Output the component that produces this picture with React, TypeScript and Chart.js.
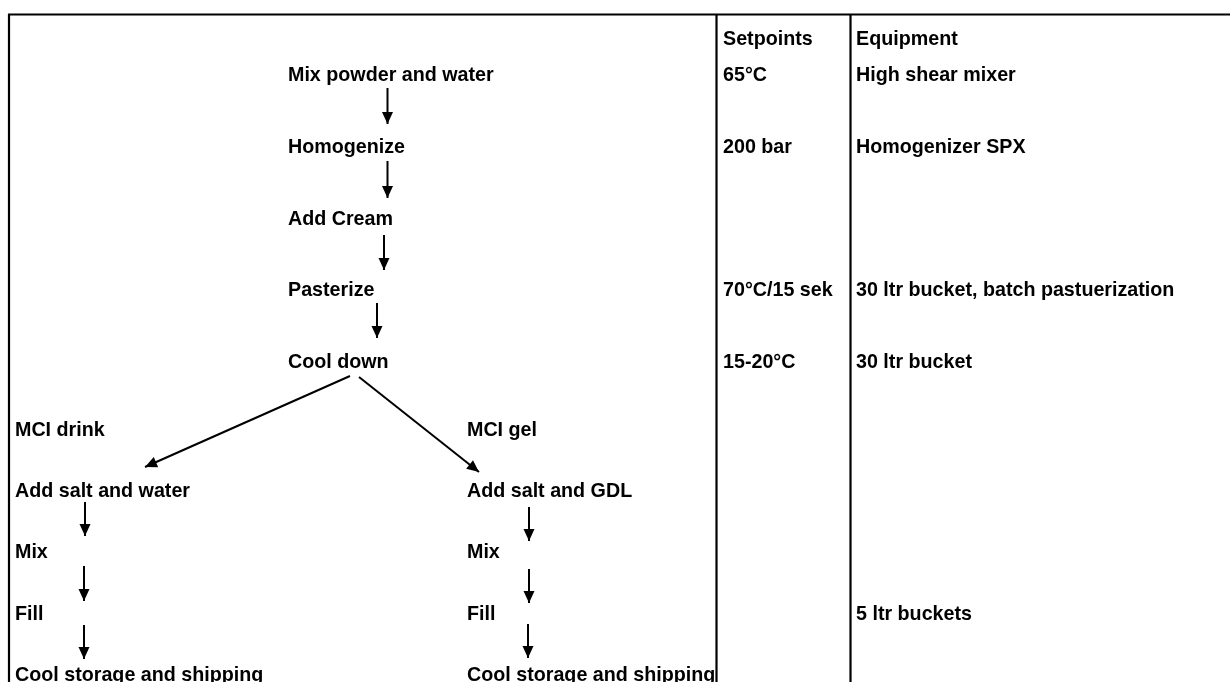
import React, { useEffect, useRef } from "react";
import { Chart, registerables } from "chart.js";

Chart.register(...registerables);

// Canvas value space: x 0..1230, y 0..682 (y grows downward)
const mainSteps = ["Mix powder and water", "Homogenize", "Add Cream", "Pasterize", "Cool down"];
const mainStepX = [288, 288, 288, 288, 288];
const mainStepY = [81, 153, 225, 296, 368];

const setpointLabels = ["Setpoints", "65°C", "200 bar", "70°C/15 sek", "15-20°C"];
const setpointY = [45, 81, 153, 296, 368];
const setpointX = 723;

const equipmentLabels = ["Equipment", "High shear mixer", "Homogenizer SPX", "30 ltr bucket, batch pastuerization", "30 ltr bucket", "5 ltr buckets"];
const equipmentY = [45, 81, 153, 296, 368, 620];
const equipmentX = 856;

const drinkSteps = ["MCI drink", "Add salt and water", "Mix", "Fill", "Cool storage and shipping"];
const gelSteps = ["MCI gel", "Add salt and GDL", "Mix", "Fill", "Cool storage and shipping"];
const branchY = [436, 497, 558, 620, 681];
const drinkX = 15;
const gelX = 467;

// Arrows: start (x, y) -> tip (x, y)
const arrowFromX = [387.5, 387.5, 384, 377, 350, 359, 85, 84, 84, 529, 529, 528];
const arrowFromY = [88, 161, 235, 303, 376, 377, 502, 566, 625, 507, 569, 624];
const arrowToX = [387.5, 387.5, 384, 377, 145, 479, 85, 84, 84, 529, 529, 528];
const arrowToY = [124, 198, 270, 338, 467, 472, 536, 601, 659, 541, 603, 658];

// Frame / table lines: x1, y1, x2, y2
const frameX1 = [8, 9, 716.5, 850.5];
const frameY1 = [14.5, 14, 14, 14];
const frameX2 = [1230, 9, 716.5, 850.5];
const frameY2 = [14.5, 682, 682, 682];

const FONT = 'bold 19.7px "Liberation Sans", Arial, sans-serif';
const HEAD_LEN = 12;
const HEAD_HALF = 5.5;

export default function App() {
  const ref = useRef<HTMLCanvasElement | null>(null);

  useEffect(() => {
    if (!ref.current) return;

    const datasets: any[] = [];
    frameX1.forEach((_, i) => {
      datasets.push({
        type: "line",
        label: "frame" + i,
        data: [
          { x: frameX1[i], y: frameY1[i] },
          { x: frameX2[i], y: frameY2[i] },
        ],
        borderColor: "#000",
        borderWidth: 2.2,
        pointRadius: 0,
        showLine: true,
        fill: false,
        clip: false,
      });
    });
    arrowFromX.forEach((_, i) => {
      datasets.push({
        type: "line",
        label: "arrow" + i,
        isArrow: true,
        data: [
          { x: arrowFromX[i], y: arrowFromY[i] },
          { x: arrowToX[i], y: arrowToY[i] },
        ],
        borderColor: "#000",
        borderWidth: 2,
        pointRadius: 0,
        showLine: true,
        fill: false,
        clip: false,
      });
    });

    const textPlugin = {
      id: "flowText",
      afterDatasetsDraw(chart: any) {
        const ctx = chart.ctx;
        const xs = chart.scales.x;
        const ys = chart.scales.y;
        ctx.save();
        // arrowheads
        chart.data.datasets.forEach((ds: any) => {
          if (!ds.isArrow) return;
          const p0 = ds.data[0];
          const p1 = ds.data[1];
          const x0 = xs.getPixelForValue(p0.x);
          const y0 = ys.getPixelForValue(p0.y);
          const x1 = xs.getPixelForValue(p1.x);
          const y1 = ys.getPixelForValue(p1.y);
          const ang = Math.atan2(y1 - y0, x1 - x0);
          const bx = x1 - HEAD_LEN * Math.cos(ang);
          const by = y1 - HEAD_LEN * Math.sin(ang);
          ctx.fillStyle = "#000";
          ctx.beginPath();
          ctx.moveTo(x1, y1);
          ctx.lineTo(bx + HEAD_HALF * Math.sin(ang), by - HEAD_HALF * Math.cos(ang));
          ctx.lineTo(bx - HEAD_HALF * Math.sin(ang), by + HEAD_HALF * Math.cos(ang));
          ctx.closePath();
          ctx.fill();
        });
        // texts
        ctx.font = FONT;
        ctx.fillStyle = "#000";
        ctx.textAlign = "left";
        ctx.textBaseline = "alphabetic";
        const put = (t: string, x: number, y: number) => {
          ctx.fillText(t, xs.getPixelForValue(x), ys.getPixelForValue(y));
        };
        mainSteps.forEach((t, i) => put(t, mainStepX[i], mainStepY[i]));
        setpointLabels.forEach((t, i) => put(t, setpointX, setpointY[i]));
        equipmentLabels.forEach((t, i) => put(t, equipmentX, equipmentY[i]));
        drinkSteps.forEach((t, i) => put(t, drinkX, branchY[i]));
        gelSteps.forEach((t, i) => put(t, gelX, branchY[i]));
        ctx.restore();
      },
    };

    const chart = new Chart(ref.current, {
      type: "scatter",
      data: { datasets },
      options: {
        animation: false,
        responsive: true,
        maintainAspectRatio: false,
        layout: { padding: 0 },
        plugins: { legend: { display: false }, tooltip: { enabled: false } },
        events: [],
        scales: {
          x: { type: "linear", min: 0, max: 1230, display: false },
          y: { type: "linear", min: 0, max: 682, reverse: true, display: false },
        },
      },
      plugins: [textPlugin],
    } as any);

    return () => chart.destroy();
  }, []);

  return (
    <div
      style={{
        position: "fixed",
        left: 0,
        top: 0,
        width: 1230,
        height: 682,
        background: "#fff",
      }}
    >
      <canvas ref={ref} />
    </div>
  );
}
